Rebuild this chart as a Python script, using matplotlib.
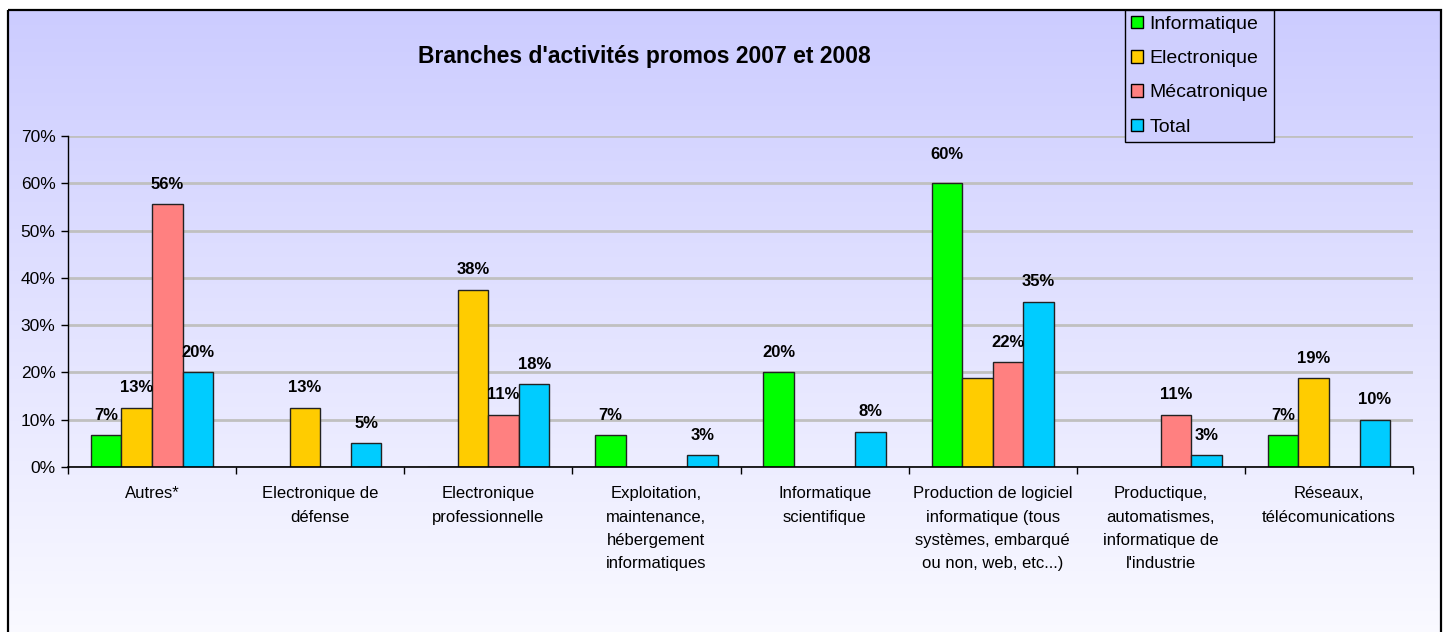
import matplotlib.pyplot as plt
import numpy as np
from matplotlib.patches import Patch, Rectangle

plt.rcParams['font.family'] = ['Liberation Sans', 'DejaVu Sans']

# Données du graphique (en %)
categories = [
    "Autres*",
    "Electronique de\ndéfense",
    "Electronique\nprofessionnelle",
    "Exploitation,\nmaintenance,\nhébergement\ninformatiques",
    "Informatique\nscientifique",
    "Production de logiciel\ninformatique (tous\nsystèmes, embarqué\nou non, web, etc...)",
    "Productique,\nautomatismes,\ninformatique de\nl'industrie",
    "Réseaux,\ntélécomunications",
]
series_names = ['Informatique', 'Electronique', 'Mécatronique', 'Total']
informatique = [6.7, 0, 0, 6.7, 20.0, 60.0, 0, 6.7]
electronique = [12.5, 12.5, 37.5, 0, 0, 18.75, 0, 18.75]
mecatronique = [55.6, 0, 11.1, 0, 0, 22.2, 11.1, 0]
total = [20.0, 5.0, 17.5, 2.5, 7.5, 35.0, 2.5, 10.0]
y_ticks = [0, 10, 20, 30, 40, 50, 60, 70]
# étiquette absente sur l'image (Production, Electronique)
hidden_labels = {(1, 5)}
# étiquette un peu plus haute (60%)
label_lift = {(0, 5): 9}

colors = ['#00FF00', '#FFCC00', '#FF8080', '#00CCFF']
series = [informatique, electronique, mecatronique, total]

W, H = 1447, 632
fig = plt.figure(figsize=(W / 100, H / 100), dpi=100)

# fond dégradé + cadre
bg = fig.add_axes([0, 0, 1, 1], zorder=-5)
bg.set_xlim(0, W)
bg.set_ylim(H, 0)
bg.axis('off')
top_c = np.array([204, 204, 255]) / 255
bot_c = np.array([250, 250, 255]) / 255
t = np.linspace(0, 1, 256)[:, None]
grad = (top_c * (1 - t) + bot_c * t)[:, None, :]
bg.imshow(grad, extent=[8, 1441, 640, 10], aspect='auto', zorder=0)
bg.add_patch(Rectangle((8, 10), 1433, 640, fill=False, edgecolor='black', lw=1.6, zorder=2))

ax = fig.add_axes([68 / W, (H - 467) / H, (1413 - 68) / W, (467 - 136) / H])
ax.set_facecolor('none')

x = np.arange(len(categories))
bw = 1 / 5.5
for i, vals in enumerate(series):
    offs = (i - 1.5) * bw
    v = np.array(vals, dtype=float)
    ax.bar(x + offs, v, width=bw, color=colors[i], edgecolor='#222222', linewidth=1, zorder=3)
    for j, val in enumerate(vals):
        if val <= 0 or (i, j) in hidden_labels:
            continue
        ax.annotate(f"{int(val + 0.5)}%", (x[j] + offs, val),
                    xytext=(0, 20 + label_lift.get((i, j), 0)),
                    textcoords='offset pixels', ha='center', va='center',
                    fontsize=12, fontweight='bold', zorder=5)

ax.set_xlim(-0.5, len(categories) - 0.5)
ax.set_ylim(0, 70)
ax.set_yticks(y_ticks)
ax.set_yticklabels([f"{v}%" for v in y_ticks], fontsize=12.5)
ax.set_xticks(x)
ax.set_xticklabels(categories, fontsize=12, linespacing=1.68, va='top')
ax.tick_params(axis='x', length=0, pad=14)
ax.set_xticks(np.arange(len(categories) + 1) - 0.5, minor=True)
ax.tick_params(axis='x', which='minor', length=5, width=1, direction='out')
ax.tick_params(axis='y', length=5, width=1, direction='out', pad=4)
ax.grid(axis='y', color='#C0C0C0', linewidth=2, zorder=1)
ax.set_axisbelow(True)
for s in ['top', 'right']:
    ax.spines[s].set_visible(False)
ax.spines['left'].set_linewidth(1)
ax.spines['bottom'].set_linewidth(1.2)
ax.spines['bottom'].set_zorder(4)

fig.text(644 / W, 1 - 56 / H, "Branches d'activités promos 2007 et 2008",
         ha='center', va='center', fontsize=16.5, fontweight='bold')

handles = [Patch(facecolor=c, edgecolor='black', label=n) for c, n in zip(colors, series_names)]
leg = fig.legend(handles=handles, loc='upper left', bbox_to_anchor=(1125 / W, 1 - 10 / H),
                 fontsize=14, frameon=True, fancybox=False, edgecolor='black',
                 facecolor='#CFCFFE', framealpha=1, handlelength=0.62, handleheight=0.62,
                 handletextpad=0.35, labelspacing=0.88, borderpad=0.3, borderaxespad=0)
leg.get_frame().set_linewidth(1)

fig.savefig('out.png', dpi=100)
